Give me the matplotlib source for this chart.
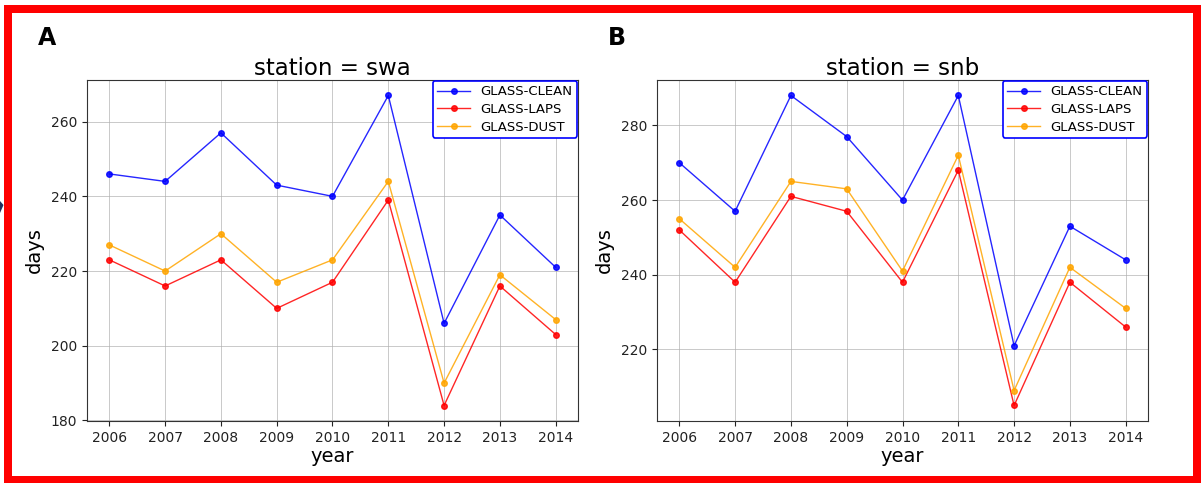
import matplotlib
matplotlib.use("Agg")
import matplotlib.pyplot as plt
from matplotlib.patches import Rectangle, Polygon

years = [2006, 2007, 2008, 2009, 2010, 2011, 2012, 2013, 2014]

swa_clean = [246, 244, 257, 243, 240, 267, 206, 235, 221]
swa_laps = [223, 216, 223, 210, 217, 239, 184, 216, 203]
swa_dust = [227, 220, 230, 217, 223, 244, 190, 219, 207]

snb_clean = [270, 257, 288, 277, 260, 288, 221, 253, 244]
snb_laps = [252, 238, 261, 257, 238, 268, 205, 238, 226]
snb_dust = [255, 242, 265, 263, 241, 272, 209, 242, 231]

series_names = ["GLASS-CLEAN", "GLASS-LAPS", "GLASS-DUST"]
colors = ["blue", "red", "orange"]

fig = plt.figure(figsize=(12.04, 4.83), dpi=100)

panels = [
    ("A", "swa", [swa_clean, swa_laps, swa_dust], 87),
    ("B", "snb", [snb_clean, snb_laps, snb_dust], 657),
]

W, H = 1204, 483
for letter, station, data, x0 in panels:
    ax = fig.add_axes([x0 / W, 1 - 421 / H, 491 / W, 341 / H])
    for vals, name, c in zip(data, series_names, colors):
        ax.plot(years, vals, color=c, marker="o", markersize=4, linewidth=1,
                alpha=0.85, label=name)
    ax.set_xticks(years)
    ax.grid(True, color="#b0b0b0", linewidth=0.6, alpha=0.8)
    ax.set_axisbelow(True)
    ax.set_title(f"station = {station}", fontsize=16.5, pad=3)
    ax.set_xlabel("year", fontsize=14, labelpad=2)
    ax.set_ylabel("days", fontsize=14, labelpad=5)
    ax.tick_params(labelsize=10, colors="#222222")
    for s in ax.spines.values():
        s.set_color("#333333")
        s.set_linewidth(0.8)
    leg = ax.legend(loc="upper right", fontsize=9.5, borderaxespad=0.05,
                    labelspacing=0.35, borderpad=0.35, handlelength=2.5,
                    framealpha=1, fancybox=True)
    leg.get_frame().set_edgecolor("blue")
    leg.get_frame().set_linewidth(1.2)
    fig.text((x0 - 49) / W, 1 - 38 / H, letter, fontsize=17, fontweight="bold",
             va="center", ha="left")

# red frame around the whole figure
fig.patches.append(Rectangle((8 / W, 3.5 / H), 1188.5 / W, 470.5 / H,
                             transform=fig.transFigure, fill=False,
                             edgecolor="red", linewidth=8 * 0.72))

# small dark fragment at the left edge
fig.patches.append(Polygon([(0, (H - 201) / H), (3.5 / W, (H - 205) / H),
                            (0, (H - 213) / H)],
                           transform=fig.transFigure, closed=True,
                           facecolor="#1f2f5f", edgecolor="none"))

fig.savefig("out.png", dpi=100)
